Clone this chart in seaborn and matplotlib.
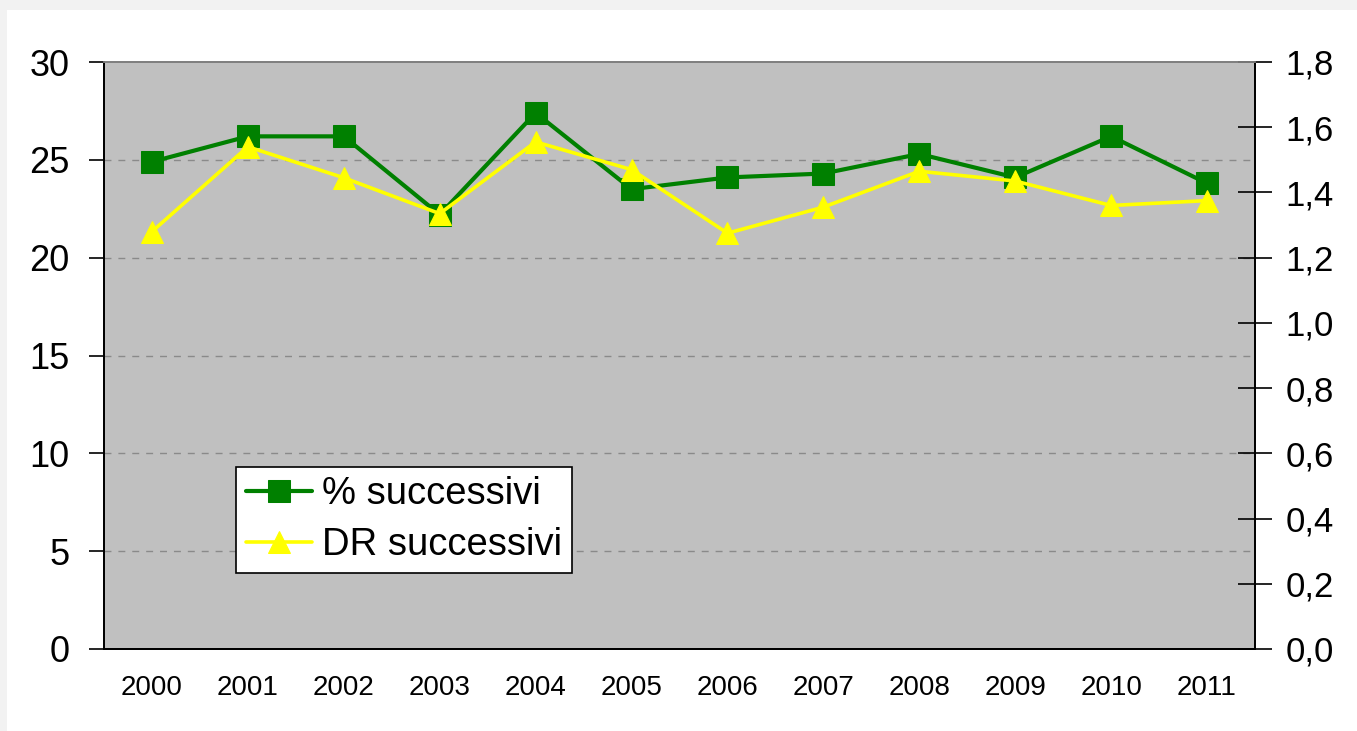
import numpy as np
import pandas as pd
import matplotlib
matplotlib.use("Agg")
import matplotlib.pyplot as plt
import seaborn as sns
from matplotlib.patches import Rectangle

years = [2000, 2001, 2002, 2003, 2004, 2005, 2006, 2007, 2008, 2009, 2010, 2011]
pct_successivi = [24.9, 26.2, 26.2, 22.2, 27.4, 23.5, 24.1, 24.3, 25.3, 24.1, 26.2, 23.8]
dr_successivi = [1.28, 1.54, 1.445, 1.335, 1.555, 1.47, 1.275, 1.355, 1.465, 1.435, 1.36, 1.375]

left_ticks = [0, 5, 10, 15, 20, 25, 30]
right_ticks = [0.0, 0.2, 0.4, 0.6, 0.8, 1.0, 1.2, 1.4, 1.6, 1.8]

df = pd.DataFrame({"anno": years, "pct": pct_successivi, "dr": dr_successivi})

sns.set_theme(style="white")
plt.rcParams["font.family"] = ["Liberation Sans", "DejaVu Sans"]
plt.rcParams["text.color"] = "black"
plt.rcParams["xtick.color"] = "black"
plt.rcParams["ytick.color"] = "black"

fig = plt.figure(figsize=(13.57, 7.31), dpi=100)
fig.patch.set_facecolor("#f2f2f2")
fig.patches.append(Rectangle((7 / 1357, 0), 1, 721 / 731, transform=fig.transFigure,
                             facecolor="white", edgecolor="none", zorder=-10))

ax = fig.add_axes([104 / 1357, 82 / 731, 1151 / 1357, 587 / 731])
ax.set_facecolor("#c0c0c0")
ax2 = ax.twinx()
ax2.patch.set_visible(False)

sns.lineplot(data=df, x="anno", y="pct", ax=ax, color="#008000", linewidth=3.0,
             marker="s", markersize=16, markeredgecolor="#008000", label="% successivi",
             legend=False)
sns.lineplot(data=df, x="anno", y="dr", ax=ax2, color="#ffff00", linewidth=2.6,
             marker="^", markersize=16, markeredgecolor="#ffff00", label="DR successivi",
             legend=False)

ax.set_xlim(years[0] - 0.5, years[-1] + 0.5)
ax.set_ylim(0, 30)
ax2.set_ylim(0, 1.8)

# dashed gridlines at the left-axis major ticks
ax.set_yticks(left_ticks)
ax.set_yticklabels([str(v) for v in left_ticks], fontsize=26)
for v in left_ticks[1:-1]:
    ax.axhline(v, color="#8a8a8a", linestyle=(0, (5, 5)), linewidth=1.0, zorder=0.5)

ax2.set_yticks(right_ticks)
ax2.set_yticklabels([f"{v:.1f}".replace(".", ",") for v in right_ticks], fontsize=25)

# category boundaries carry the tick marks, centres carry the labels
bounds = [y - 0.5 for y in years] + [years[-1] + 0.5]
ax.set_xticks(bounds)
ax.set_xticklabels([""] * len(bounds))
ax.set_xticks(years, minor=True)
ax.set_xticklabels([str(y) for y in years], minor=True, fontsize=20)
ax.tick_params(axis="x", which="major", direction="out", length=8, width=1.2, color="black")
ax.tick_params(axis="x", which="minor", length=0, pad=19)
ax.tick_params(axis="y", direction="out", length=11, width=1.2, color="black", pad=14, left=True)
ax2.tick_params(axis="y", direction="inout", length=24, width=1.2, color="black", pad=10, right=True)

ax.set_xlabel("")
ax.set_ylabel("")
ax2.set_ylabel("")

for a in (ax, ax2):
    for side in ("left", "right", "bottom"):
        a.spines[side].set_color("black")
        a.spines[side].set_linewidth(1.3)
    a.spines["top"].set_color("#808080")
    a.spines["top"].set_linewidth(1.3)
    a.grid(False)

h1, l1 = ax.get_legend_handles_labels()
h2, l2 = ax2.get_legend_handles_labels()
leg = ax2.legend(h1 + h2, l1 + l2, loc="lower left", bbox_to_anchor=(0.1147, 0.1295),
                 borderaxespad=0, fontsize=27.5, frameon=True, fancybox=False,
                 handlelength=1.75, handletextpad=0.25, borderpad=0.25, labelspacing=0.4,
                 numpoints=1)
leg.get_frame().set_edgecolor("black")
leg.get_frame().set_linewidth(1.2)
leg.get_frame().set_facecolor("white")
leg.get_frame().set_alpha(1)

fig.savefig("out.png", dpi=100, facecolor=fig.get_facecolor())
